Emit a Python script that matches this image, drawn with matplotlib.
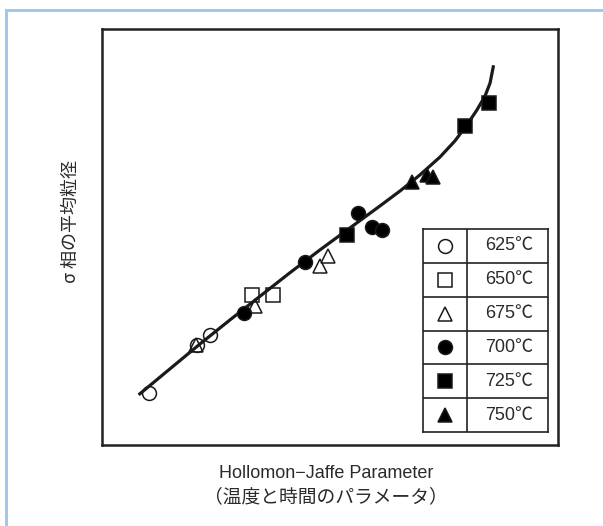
import matplotlib.pyplot as plt
from matplotlib.patches import Rectangle

plt.rcParams['font.family'] = ['Liberation Sans', 'Noto Sans CJK JP', 'DejaVu Sans']

# data (arbitrary 0-100 units, no scale shown)
temps = ['625℃', '650℃', '675℃', '700℃', '725℃', '750℃']

x625 = [10.3, 20.8, 23.7]
y625 = [12.5, 24.0, 26.4]
x650 = [32.9, 37.5]
y650 = [36.1, 36.1]
x675 = [20.6, 33.6, 47.8, 49.6]
y675 = [24.0, 33.4, 43.0, 45.4]
x700 = [31.1, 44.5, 56.1, 59.2, 61.4]
y700 = [31.7, 44.0, 55.8, 52.4, 51.7]
x725 = [53.7, 79.6, 84.9]
y725 = [50.5, 76.7, 82.2]
x750 = [68.0, 71.3, 72.6]
y750 = [63.2, 64.9, 64.4]

# trend curve drawn by hand in the original
xc = [8.3, 14.9, 21.5, 28.1, 34.7, 41.2, 47.8, 54.4, 61.0, 65.4,
      69.7, 74.1, 77.4, 80.0, 82.2, 84.0, 85.1, 85.8]
yc = [12.3, 18.3, 24.3, 30.1, 35.8, 41.4, 46.9, 52.2, 57.5, 61.1,
      64.9, 69.2, 73.1, 76.9, 80.5, 83.9, 87.0, 90.9]

series = [
    (x625, y625, 'o', 'none'),
    (x650, y650, 's', 'none'),
    (x675, y675, '^', 'none'),
    (x700, y700, 'o', 'k'),
    (x725, y725, 's', 'k'),
    (x750, y750, '^', 'k'),
]
msize = {'o': 10, 's': 9.5, '^': 10}

W, H = 603, 526
fig = plt.figure(figsize=(W / 100, H / 100), dpi=100)
fig.patch.set_facecolor('white')

# light blue frame (top and left only)
blue = '#A4C8EA'
fig.add_artist(Rectangle((5 / W, 0), 3 / W, (H - 9) / H, transform=fig.transFigure,
                         color=blue, lw=0))
fig.add_artist(Rectangle((5 / W, (H - 12) / H), 1, 3 / H, transform=fig.transFigure,
                         color=blue, lw=0))

ax = fig.add_axes([102 / W, (H - 445) / H, 456 / W, 416 / H])
ax.set_xlim(0, 100)
ax.set_ylim(0, 100)
ax.set_xticks([])
ax.set_yticks([])
for s in ax.spines.values():
    s.set_linewidth(1.8)
    s.set_color('#222222')

ax.plot(xc, yc, color='#1a1a1a', lw=2.3, zorder=2, solid_joinstyle='round')
for xs, ys, m, fc in series:
    ax.plot(xs, ys, ls='none', marker=m, markersize=msize[m], markerfacecolor=fc,
            markeredgecolor='#1a1a1a', markeredgewidth=1.1, zorder=3)

# axis titles
fig.text(326 / W, 1 - 473 / H, 'Hollomon\u2212Jaffe Parameter', ha='center', va='center',
         fontsize=13, color='#2a2a2a')
fig.text(326 / W, 1 - 497 / H, '（温度と時間のパラメータ）', ha='center', va='center',
         fontsize=13.5, color='#2a2a2a', family=['Noto Sans CJK JP', 'DejaVu Sans'])
fig.text(71 / W, 1 - 222 / H, 'σ 相の平均粒径', ha='center', va='center', rotation=90,
         fontsize=13, color='#2a2a2a', family=['Noto Sans CJK JP', 'DejaVu Sans'])

# legend as a small table
lg = fig.add_axes([423 / W, (H - 432) / H, 125 / W, 203 / H])
lg.set_xlim(0, 125)
lg.set_ylim(6, 0)
lg.set_xticks([])
lg.set_yticks([])
for s in lg.spines.values():
    s.set_linewidth(1.2)
    s.set_color('#222222')
lg.axvline(44, color='#222222', lw=1.2)
for i in range(1, 6):
    lg.axhline(i, color='#222222', lw=1.2)
for i, ((xs, ys, m, fc), t) in enumerate(zip(series, temps)):
    lg.plot([22], [i + 0.5], ls='none', marker=m, markersize=msize[m], markerfacecolor=fc,
            markeredgecolor='#1a1a1a', markeredgewidth=1.1)
    lg.text(86, i + 0.5, t, ha='center', va='center', fontsize=13, color='#2a2a2a')

fig.savefig('out.png', dpi=100)
